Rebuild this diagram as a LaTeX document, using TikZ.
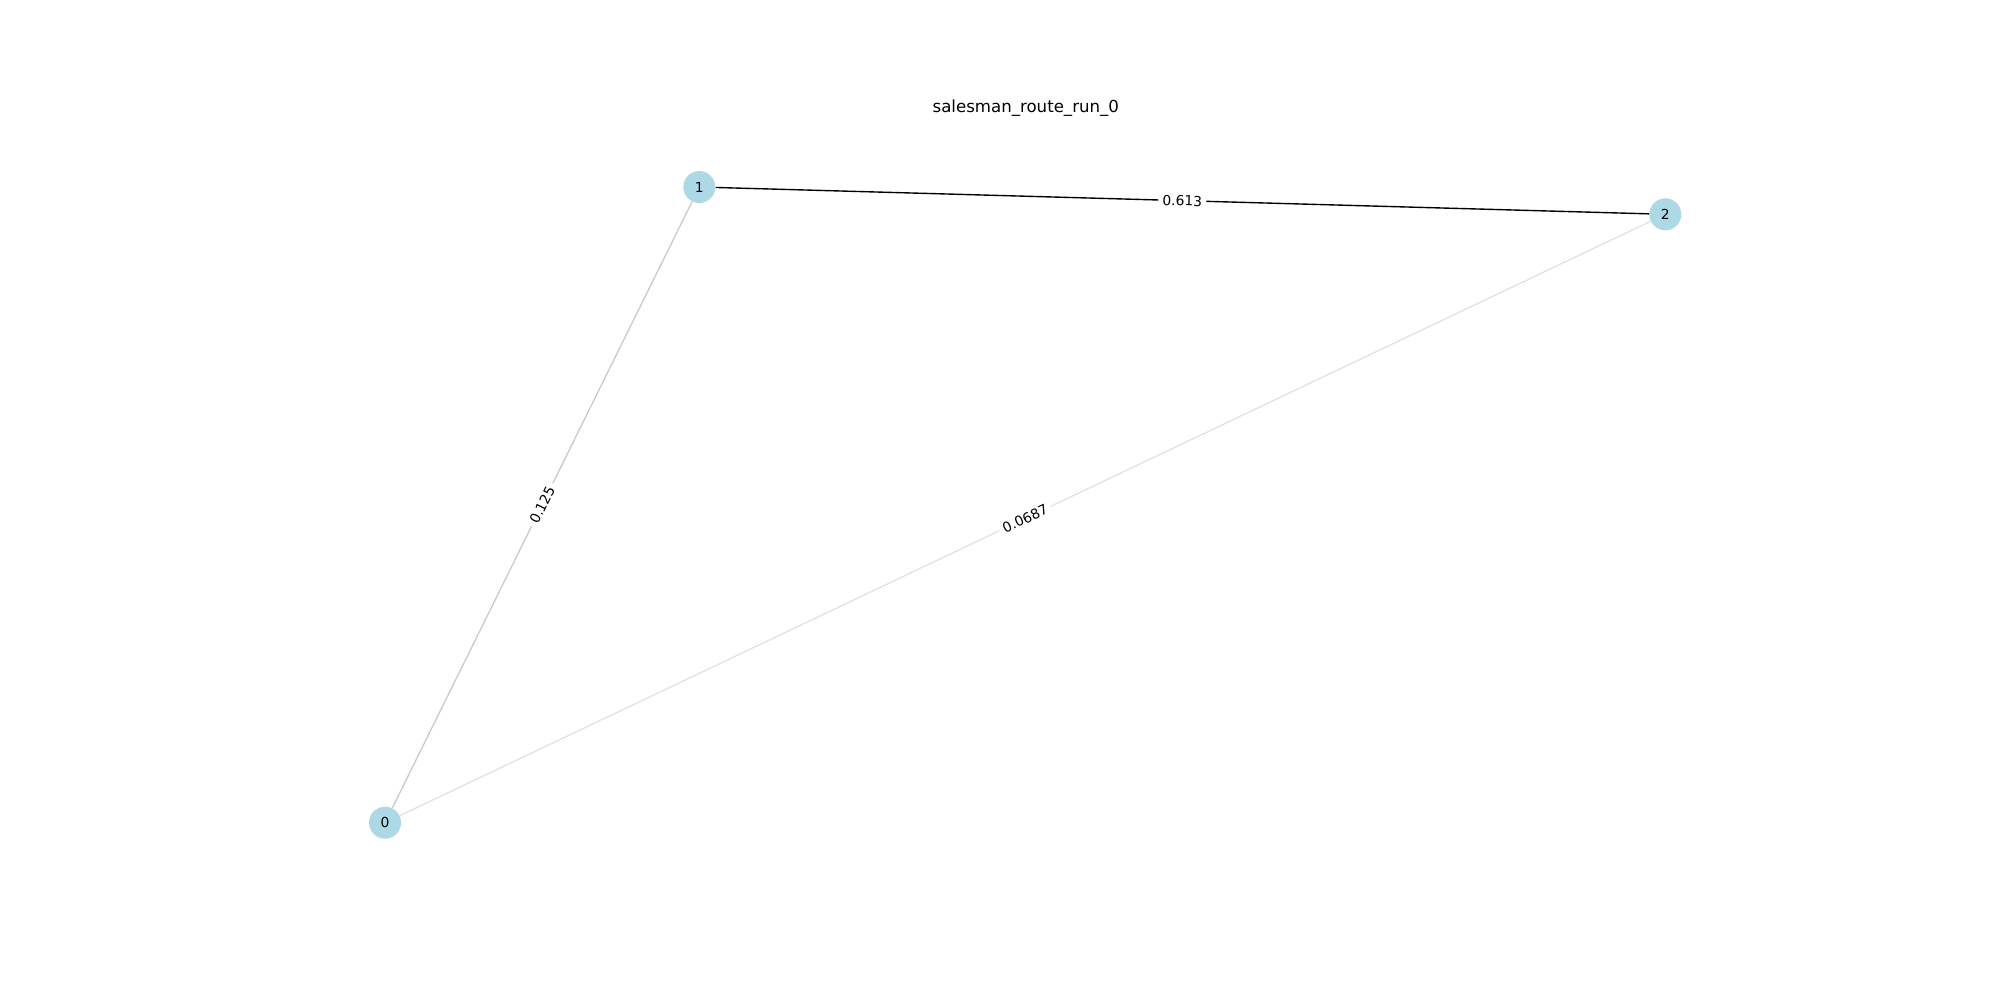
\documentclass[tikz,border=0pt]{standalone}
\usepackage{fontspec}
\setmainfont{DejaVu Sans}
\definecolor{nodeblue}{RGB}{173,216,230}
\tikzset{
  city/.style={circle, fill=nodeblue, draw=none, minimum size=23.04bp, inner sep=0pt, font=\fontsize{10}{12}\selectfont},
  route/.style={line width=1pt},
  lbl/.style={sloped, midway, fill=white, inner xsep=3pt, inner ysep=1.5pt, font=\fontsize{10}{12}\selectfont, text=black},
  ttl/.style={anchor=base, inner sep=0pt, font=\fontsize{12}{14}\selectfont}
}
\begin{document}
\begin{tikzpicture}[x=0.72bp, y=-0.72bp]
\useasboundingbox (0,0) rectangle (2000,1000);
\node[ttl] (title) at (1025.8,112.7) {salesman\_route\_run\_0};
\node[city] (n0) at (385,822.7) {0};
\node[city] (n1) at (699.3,187) {1};
\node[city] (n2) at (1665.3,214.3) {2};
\draw[route, draw=black] (n1) -- node[lbl] {0.613} (n2);
\draw[route, draw=black!20] (n0) -- node[lbl] {0.125} (n1);
\draw[route, draw=black!11] (n0) -- node[lbl] {0.0687} (n2);
\end{tikzpicture}
\end{document}
